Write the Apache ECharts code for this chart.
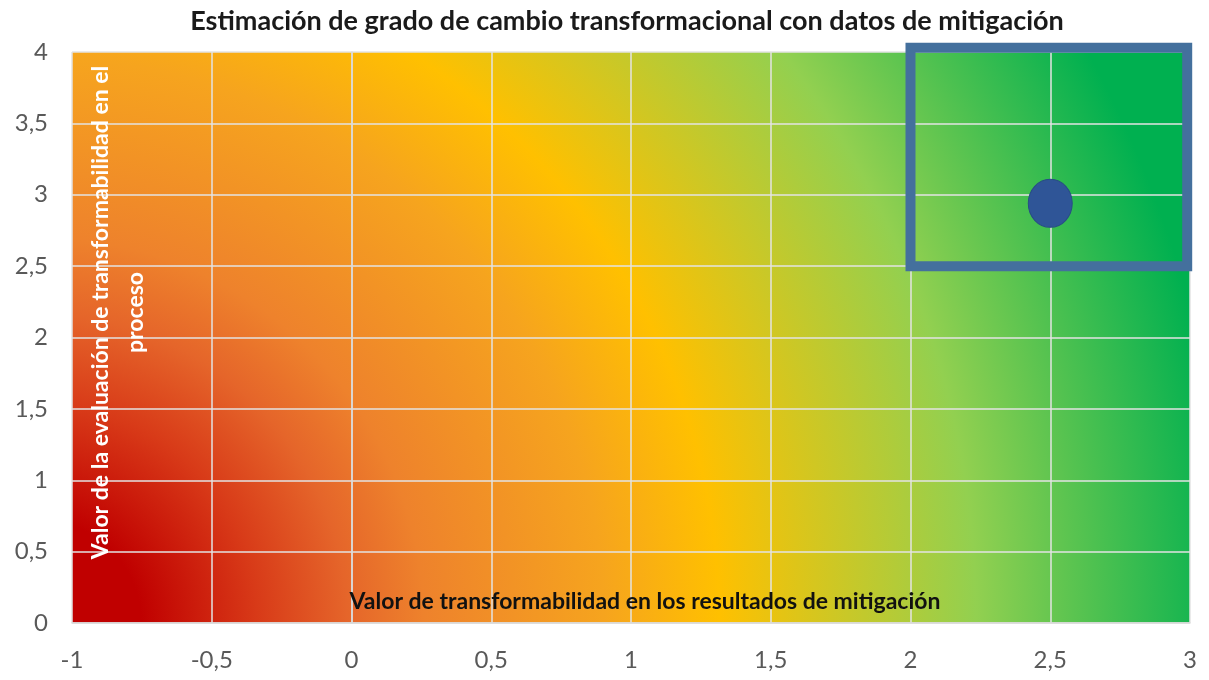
<!DOCTYPE html>
<html lang="es">
  <head>
    <meta charset="UTF-8" />
    <title>Estimación de grado de cambio transformacional</title>
    <script src="https://cdnjs.cloudflare.com/ajax/libs/echarts/6.0.0/echarts.min.js"></script>
    <style>
      html, body { margin: 0; padding: 0; background: #fff; }
      #chart { width: 1209px; height: 680px; }
    </style>
  </head>
  <body>
    <div id="chart"></div>
    <script>
      // datos
      const titleText = "Estimación de grado de cambio transformacional con datos de mitigación";
      const xName = "Valor de transformabilidad en los resultados de mitigación";
      const yName = "Valor de la evaluación de transformabilidad en el\nproceso";
      const xRange = [-1, 3];
      const yRange = [0, 4];
      const tickStep = 0.5;
      const pointData = [[2.5, 2.94]];
      const boxData = [[2, 2.5], [2, 4.03], [2.99, 4.03], [2.99, 2.5], [2, 2.5]];

      // degradado rojo -> naranja -> amarillo -> verde desde la esquina inferior izquierda
      const bgGradient = {
        type: "radial",
        x: -0.03,
        y: 1,
        r: 2.25,
        colorStops: [
          { offset: 0, color: "#c00000" },
          { offset: 0.08, color: "#c00000" },
          { offset: 0.17, color: "#d83a18" },
          { offset: 0.24, color: "#e5652a" },
          { offset: 0.3, color: "#ee822c" },
          { offset: 0.44, color: "#f6a41e" },
          { offset: 0.53, color: "#ffc000" },
          { offset: 0.73, color: "#92d050" },
          { offset: 0.93, color: "#00b050" },
          { offset: 1, color: "#00b050" },
        ],
      };

      const fmt = (v) => String(v).replace(".", ",");
      const font = "Lato, 'Open Sans', sans-serif";

      const option = {
        animation: false,
        textStyle: { fontFamily: font },
        title: {
          text: titleText,
          left: 622,
          textAlign: "center",
          top: 3,
          textStyle: { fontSize: 27, fontWeight: "bold", color: "#1a1a1a", fontFamily: font },
        },
        grid: {
          left: 72,
          right: 19,
          top: 52,
          bottom: 57,
          containLabel: false,
          outerBoundsMode: "none",
          show: true,
          borderWidth: 0,
          backgroundColor: bgGradient,
        },
        xAxis: {
          type: "value",
          min: xRange[0],
          max: xRange[1],
          interval: tickStep,
          name: xName,
          nameLocation: "middle",
          nameGap: -33,
          nameMoveOverlap: false,
          nameTextStyle: {
            fontSize: 23,
            fontWeight: "bold",
            color: "#111",
            padding: [0, 0, 0, 28],
          },
          axisLine: { show: true, lineStyle: { color: "#d9d9d9", width: 1.5 } },
          axisTick: { show: false },
          axisLabel: { fontSize: 24, color: "#595959", margin: 25, formatter: fmt },
          splitLine: { show: true, lineStyle: { color: "#e3e3e3", width: 1.5 } },
        },
        yAxis: {
          type: "value",
          min: yRange[0],
          max: yRange[1],
          interval: tickStep,
          name: yName,
          nameLocation: "middle",
          nameRotate: 90,
          nameGap: -81,
          nameMoveOverlap: false,
          nameTextStyle: {
            fontSize: 23,
            fontWeight: "bold",
            color: "#ffffff",
            lineHeight: 35,
            padding: [0, 0, 0, 50],
          },
          axisLine: { show: true, lineStyle: { color: "#d9d9d9", width: 1.5 } },
          axisTick: { show: false },
          axisLabel: { fontSize: 24, color: "#595959", margin: 24, formatter: fmt },
          splitLine: { show: true, lineStyle: { color: "#e3e3e3", width: 1.5 } },
        },
        series: [
          {
            type: "line",
            data: boxData,
            clip: false,
            symbol: "none",
            silent: true,
            lineStyle: { color: "#44709d", width: 10, join: "miter", cap: "square" },
            z: 3,
          },
          {
            type: "scatter",
            data: pointData,
            symbol: "circle",
            symbolSize: [44, 48],
            itemStyle: { color: "#2f5597", borderColor: "#284b86", borderWidth: 1, opacity: 1 },
            z: 4,
          },
        ],
      };

      const chart = echarts.init(document.getElementById("chart"));
      chart.setOption(option);
    </script>
  </body>
</html>
